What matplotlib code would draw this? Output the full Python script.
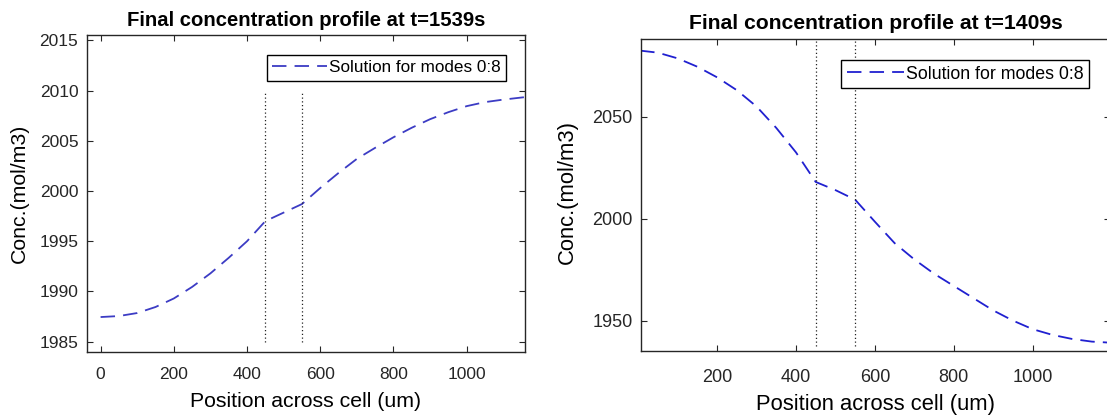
import numpy as np
import matplotlib
matplotlib.use("Agg")
import matplotlib.pyplot as plt

# Data.
pos_left = [0, 50, 100, 150, 200, 250, 300, 350, 400, 450, 500, 550, 600,
            650, 700, 750, 800, 850, 900, 950, 1000, 1050, 1100, 1160]
conc_left = [1987.45, 1987.55, 1987.85, 1988.45, 1989.3, 1990.45, 1991.8,
             1993.35, 1995.0, 1997.0, 1997.85, 1998.7, 2000.3, 2001.8,
             2003.2, 2004.3, 2005.35, 2006.3, 2007.15, 2007.85, 2008.45,
             2008.85, 2009.1, 2009.35]

pos_right = [5, 50, 100, 150, 200, 250, 300, 350, 400, 450, 500, 550, 600,
             650, 700, 750, 800, 850, 900, 950, 1000, 1050, 1100, 1150, 1195]
conc_right = [2082.4, 2081.4, 2078.6, 2074.5, 2069.3, 2063.0, 2055.0, 2044.5,
              2032.5, 2018.0, 2014.0, 2009.3, 1998.5, 1988.0, 1980.0, 1973.0,
              1967.0, 1961.0, 1955.0, 1950.0, 1945.8, 1943.0, 1941.0, 1939.7,
              1939.2]

boundaries = [450, 550]
titles = ["Final concentration profile at t=1539s",
          "Final concentration profile at t=1409s"]
legend_label = "Solution for modes 0:8"

plt.rcParams['font.family'] = ['Liberation Sans', 'DejaVu Sans']

fig = plt.figure(figsize=(11.07, 4.18), dpi=100)

ax_left = fig.add_axes([0.0783, 0.1586, 0.3962, 0.7569])
ax_right = fig.add_axes([0.5790, 0.1603, 0.4237, 0.7464])

axis_color = '#262626'


def style_axes(ax, fs, xpad, ypad):
    for spine in ax.spines.values():
        spine.set_color(axis_color)
        spine.set_linewidth(1.0)
    ax.tick_params(direction='in', length=4, width=0.8, colors=axis_color,
                   top=True, right=True, labelsize=fs)
    ax.tick_params(axis='x', pad=xpad)
    ax.tick_params(axis='y', pad=ypad)


def draw_panel(ax, x, y, title, xlim, ylim, yticks, xticks, vline_y, fs,
               title_fs, label_fs, legend_fs, xpad, legend_anchor, dash_color):
    ax.plot(x, y, color=dash_color, linewidth=1.3, linestyle=(0, (8, 4.5)),
            label=legend_label)
    for b in boundaries:
        ax.plot([b, b], vline_y, color='#222222', linewidth=0.9,
                linestyle=(0, (1, 2)))
    ax.set_xlim(xlim)
    ax.set_ylim(ylim)
    ax.set_xticks(xticks)
    ax.set_yticks(yticks)
    style_axes(ax, fs, xpad, 6)
    ax.set_title(title, fontsize=title_fs, fontweight='bold', pad=7)
    ax.set_xlabel("Position across cell (um)", fontsize=label_fs, va='center')
    ax.set_ylabel("Conc.(mol/m3)", fontsize=label_fs, va='center')
    leg = ax.legend(loc='upper right', bbox_to_anchor=legend_anchor,
                    fontsize=legend_fs, handlelength=3.2, handletextpad=0.1,
                    borderpad=0.32, fancybox=False, framealpha=1,
                    borderaxespad=0)
    leg.get_frame().set_edgecolor('k')
    leg.get_frame().set_linewidth(1.0)


draw_panel(ax_left, pos_left, conc_left, titles[0], (-38, 1160),
           (1984.0, 2015.5), np.arange(1985, 2016, 5),
           np.arange(0, 1001, 200), [1985, 2010], 12.5, 14.6, 15.3, 12.3,
           11, (0.956, 0.938), '#3c3cc4')
ax_left.xaxis.set_label_coords(0.5, -0.158)
ax_left.yaxis.set_label_coords(-0.154, 0.50)

draw_panel(ax_right, pos_right, conc_right, titles[1], (7, 1196),
           (1935.1, 2088.1), [1950, 2000, 2050],
           np.arange(200, 1001, 200), [1937.5, 2088], 13, 15.2, 15.8, 12.8,
           13, (0.955, 0.933), '#2020d0')
ax_right.xaxis.set_label_coords(0.5, -0.173)
ax_right.yaxis.set_label_coords(-0.156, 0.51)

fig.savefig("out.png", dpi=100)
